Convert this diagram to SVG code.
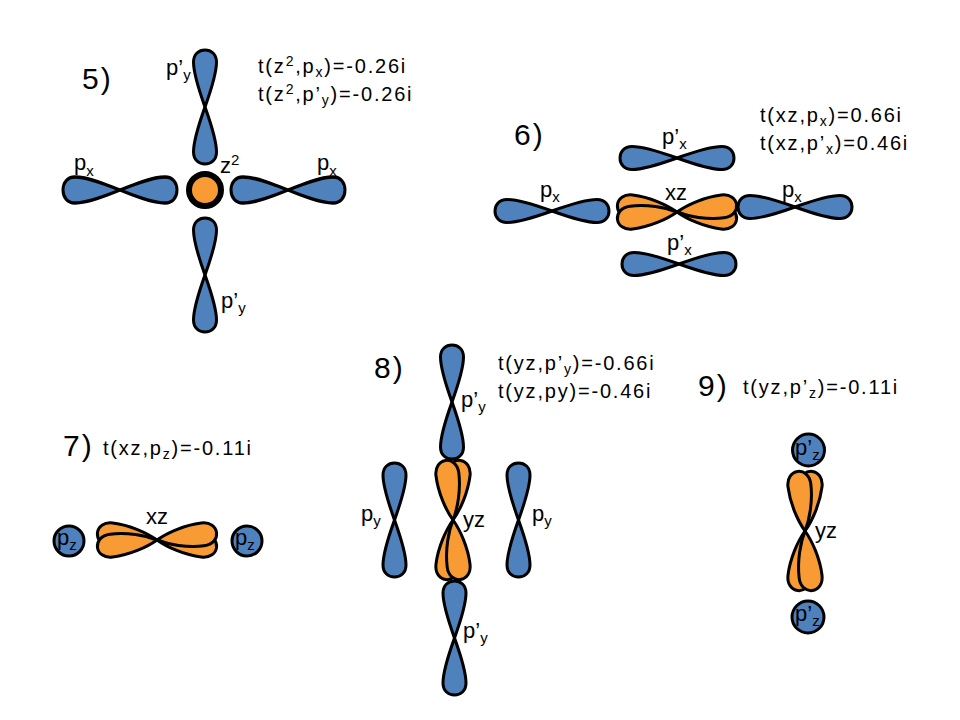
<svg xmlns="http://www.w3.org/2000/svg" xmlns:xlink="http://www.w3.org/1999/xlink" width="960" height="720" viewBox="0 0 960 720">
<style>
.b{fill:#4F81BD;stroke:#000;stroke-width:3;stroke-linejoin:round}
.o{fill:#F99B35;stroke:#000;stroke-width:3;stroke-linejoin:round}
text{font-family:"Liberation Sans",Arial,sans-serif;font-size:22px;fill:#000}
.num{font-size:30px;letter-spacing:2px}
.f{font-size:20px;letter-spacing:1.8px}
.s{font-size:15px}
.fs{font-size:14px}
</style>
<defs>
<path id="lobe" d="M0,0 C14,-5 32,-11.5 45,-11.5 C53,-11.5 57,-6 57,0 C57,6 53,11.5 45,11.5 C32,11.5 14,5 0,0 Z"/>
<path id="dlobe" d="M0,0 C11,-6 29,-11.5 46,-11.5 C55,-11.5 60,-6 60,0 C60,6 55,11.5 46,11.5 C29,11.5 11,6 0,0 Z"/>
</defs>
<rect width="960" height="720" fill="#fff"/>

<!-- Section 5 -->
<g id="s5">
<text class="num" x="82" y="89">5)</text>
<text class="f" x="258" y="73">t(z<tspan class="fs" dy="-7">2</tspan><tspan dy="7">,p</tspan><tspan class="fs" dy="4">x</tspan><tspan dy="-4">)=-0.26i</tspan></text>
<text class="f" x="258" y="101">t(z<tspan class="fs" dy="-7">2</tspan><tspan dy="7">,p’</tspan><tspan class="fs" dy="4">y</tspan><tspan dy="-4">)=-0.26i</tspan></text>
</g>
<g id="s5-px-left">
<use xlink:href="#lobe" class="b" transform="translate(120,190) scale(1,1.13)"/>
<use xlink:href="#lobe" class="b" transform="translate(120,190) rotate(180) scale(1,1.13)"/>
<text x="74" y="170">p<tspan class="s" dy="6">x</tspan></text>
</g>
<g id="s5-px-right">
<use xlink:href="#lobe" class="b" transform="translate(288,190) scale(1,1.13)"/>
<use xlink:href="#lobe" class="b" transform="translate(288,190) rotate(180) scale(1,1.13)"/>
<text x="317" y="170">p<tspan class="s" dy="6">x</tspan></text>
</g>
<g id="s5-py-top">
<use xlink:href="#lobe" class="b" transform="translate(205,107) rotate(-90)"/>
<use xlink:href="#lobe" class="b" transform="translate(205,107) rotate(90)"/>
<text x="166" y="75">p’<tspan class="s" dy="5">y</tspan></text>
</g>
<g id="s5-py-bottom">
<use xlink:href="#lobe" class="b" transform="translate(205,275) rotate(-90)"/>
<use xlink:href="#lobe" class="b" transform="translate(205,275) rotate(90)"/>
<text x="221" y="308">p’<tspan class="s" dy="5">y</tspan></text>
</g>
<g id="s5-z2">
<circle cx="205" cy="190" r="16" fill="#F99B35" stroke="#000" stroke-width="6"/>
<text x="220" y="173">z<tspan class="s" dy="-8">2</tspan></text>
</g>

<!-- Section 6 -->
<g id="s6">
<text class="num" x="514" y="145">6)</text>
<text class="f" x="760" y="122">t(xz,p<tspan class="fs" dy="4">x</tspan><tspan dy="-4">)=0.66i</tspan></text>
<text class="f" x="760" y="150">t(xz,p’<tspan class="fs" dy="4">x</tspan><tspan dy="-4">)=0.46i</tspan></text>
</g>
<g id="s6-px-top">
<use xlink:href="#lobe" class="b" transform="translate(677,158)"/>
<use xlink:href="#lobe" class="b" transform="translate(677,158) rotate(180)"/>
<text x="662" y="144">p’<tspan class="s" dy="5">x</tspan></text>
</g>
<g id="s6-px-left">
<use xlink:href="#lobe" class="b" transform="translate(552,211)"/>
<use xlink:href="#lobe" class="b" transform="translate(552,211) rotate(180)"/>
<text x="540" y="197">p<tspan class="s" dy="5">x</tspan></text>
</g>
<g id="s6-xz">
<use xlink:href="#dlobe" class="o" transform="translate(677,212) rotate(7)"/>
<use xlink:href="#dlobe" class="o" transform="translate(677,212) rotate(187)"/>
<use xlink:href="#dlobe" class="o" transform="translate(677,212) rotate(-7)"/>
<use xlink:href="#dlobe" class="o" transform="translate(677,212) rotate(173)"/>
<text x="665" y="200">xz</text>
</g>
<g id="s6-px-right">
<use xlink:href="#lobe" class="b" transform="translate(795,207)"/>
<use xlink:href="#lobe" class="b" transform="translate(795,207) rotate(180)"/>
<text x="782" y="197">p<tspan class="s" dy="5">x</tspan></text>
</g>
<g id="s6-px-bottom">
<use xlink:href="#lobe" class="b" transform="translate(679,264)"/>
<use xlink:href="#lobe" class="b" transform="translate(679,264) rotate(180)"/>
<text x="667" y="250">p’<tspan class="s" dy="5">x</tspan></text>
</g>

<!-- Section 7 -->
<g id="s7">
<text class="num" x="63" y="456">7)</text>
<text class="f" x="103" y="455">t(xz,p<tspan class="fs" dy="4">z</tspan><tspan dy="-4">)=-0.11i</tspan></text>
</g>
<g id="s7-pz-left">
<circle cx="69" cy="541" r="15" class="b"/>
<text x="57" y="545">p<tspan class="s" dy="5">z</tspan></text>
</g>
<g id="s7-xz">
<use xlink:href="#dlobe" class="o" transform="translate(157,540) rotate(7)"/>
<use xlink:href="#dlobe" class="o" transform="translate(157,540) rotate(187)"/>
<use xlink:href="#dlobe" class="o" transform="translate(157,540) rotate(-7)"/>
<use xlink:href="#dlobe" class="o" transform="translate(157,540) rotate(173)"/>
<text x="146" y="524">xz</text>
</g>
<g id="s7-pz-right">
<circle cx="247" cy="541" r="15" class="b"/>
<text x="235" y="545">p<tspan class="s" dy="5">z</tspan></text>
</g>

<!-- Section 8 -->
<g id="s8">
<text class="num" x="374" y="378">8)</text>
<text class="f" x="498" y="370">t(yz,p’<tspan class="fs" dy="4">y</tspan><tspan dy="-4">)=-0.66i</tspan></text>
<text class="f" x="498" y="398">t(yz,py)=-0.46i</text>
</g>
<g id="s8-py-top">
<use xlink:href="#lobe" class="b" transform="translate(452,402) rotate(-90)"/>
<use xlink:href="#lobe" class="b" transform="translate(452,402) rotate(90)"/>
<text x="461" y="407">p’<tspan class="s" dy="5">y</tspan></text>
</g>
<g id="s8-py-left">
<use xlink:href="#lobe" class="b" transform="translate(394.5,520) rotate(-90)"/>
<use xlink:href="#lobe" class="b" transform="translate(394.5,520) rotate(90)"/>
<text x="361" y="521">p<tspan class="s" dy="5">y</tspan></text>
</g>
<g id="s8-yz">
<use xlink:href="#dlobe" class="o" transform="translate(453,520) rotate(-83)"/>
<use xlink:href="#dlobe" class="o" transform="translate(453,520) rotate(97)"/>
<use xlink:href="#dlobe" class="o" transform="translate(453,520) rotate(-97)"/>
<use xlink:href="#dlobe" class="o" transform="translate(453,520) rotate(83)"/>
<text x="463" y="527">yz</text>
</g>
<g id="s8-py-right">
<use xlink:href="#lobe" class="b" transform="translate(518.5,520) rotate(-90)"/>
<use xlink:href="#lobe" class="b" transform="translate(518.5,520) rotate(90)"/>
<text x="532" y="521">p<tspan class="s" dy="5">y</tspan></text>
</g>
<g id="s8-py-bottom">
<use xlink:href="#lobe" class="b" transform="translate(454.5,638) rotate(-90)"/>
<use xlink:href="#lobe" class="b" transform="translate(454.5,638) rotate(90)"/>
<text x="463" y="638">p’<tspan class="s" dy="5">y</tspan></text>
</g>

<!-- Section 9 -->
<g id="s9">
<text class="num" x="698" y="396">9)</text>
<text class="f" x="743" y="394">t(yz,p’<tspan class="fs" dy="4">z</tspan><tspan dy="-4">)=-0.11i</tspan></text>
</g>
<g id="s9-pz-top">
<circle cx="808.5" cy="450" r="16" class="b"/>
<text x="795" y="455">p’<tspan class="s" dy="5">z</tspan></text>
</g>
<g id="s9-yz">
<use xlink:href="#dlobe" class="o" transform="translate(805,531) rotate(-83)"/>
<use xlink:href="#dlobe" class="o" transform="translate(805,531) rotate(97)"/>
<use xlink:href="#dlobe" class="o" transform="translate(805,531) rotate(-97)"/>
<use xlink:href="#dlobe" class="o" transform="translate(805,531) rotate(83)"/>
<text x="815" y="538">yz</text>
</g>
<g id="s9-pz-bottom">
<circle cx="808" cy="617" r="16" class="b"/>
<text x="795" y="621">p’<tspan class="s" dy="5">z</tspan></text>
</g>
</svg>
